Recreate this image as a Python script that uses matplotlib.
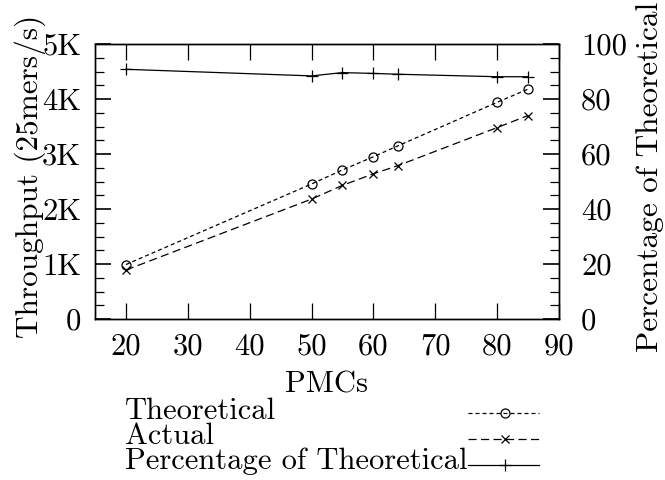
import matplotlib
matplotlib.use("Agg")
import matplotlib.pyplot as plt
from matplotlib.lines import Line2D
from matplotlib.ticker import MultipleLocator

plt.rcParams['font.family'] = ['cmr10']
plt.rcParams['axes.formatter.use_mathtext'] = True
plt.rcParams['mathtext.fontset'] = 'cm'

# PMC counts and measured throughput (25mers/s)
pmcs = [20, 50, 55, 60, 64, 80, 85]
theoretical = [990, 2455, 2710, 2950, 3150, 3940, 4180]
actual = [890, 2180, 2430, 2640, 2790, 3480, 3700]
percentage = [90.8, 88.4, 89.6, 89.3, 89.0, 88.1, 88.1]

series_names = ["Theoretical", "Actual", "Percentage of Theoretical"]
x_ticks = [20, 30, 40, 50, 60, 70, 80, 90]
y_ticks = [0, 1000, 2000, 3000, 4000, 5000]
y_tick_labels = ["0", "1K", "2K", "3K", "4K", "5K"]
y2_ticks = [0, 20, 40, 60, 80, 100]

FS = 22
W, H = 665, 480

fig = plt.figure(figsize=(W / 100, H / 100), dpi=100)
ax = fig.add_axes([95 / W, 1 - 319 / H, 464 / W, 275 / H])
ax2 = ax.twinx()

style_th = dict(color='black', lw=0.9, linestyle=(0, (3.2, 2.4)),
                marker='o', markersize=6.5, markerfacecolor='none',
                markeredgewidth=0.9)
style_ac = dict(color='black', lw=0.9, linestyle=(0, (6.5, 3.5)),
                marker='x', markersize=6, markeredgewidth=0.9)
style_pc = dict(color='black', lw=0.9, linestyle='-',
                marker='+', markersize=8, markeredgewidth=0.9)

ax.plot(pmcs, theoretical, **style_th)
ax.plot(pmcs, actual, **style_ac)
ax2.plot(pmcs, percentage, **style_pc)

ax.set_xlim(15, 90)
ax.set_ylim(0, 5000)
ax2.set_ylim(0, 100)

ax.set_xticks(x_ticks)
ax.set_xticklabels([str(v) for v in x_ticks], fontsize=FS)
ax.set_yticks(y_ticks)
ax.set_yticklabels(y_tick_labels, fontsize=FS)
ax.yaxis.set_minor_locator(MultipleLocator(250))
ax2.set_yticks(y2_ticks)
ax2.set_yticklabels([str(v) for v in y2_ticks], fontsize=FS)
ax2.yaxis.set_minor_locator(MultipleLocator(5))

ax.tick_params(axis='x', which='major', direction='in', length=11.5, width=0.9,
               top=True, bottom=True, pad=10)
ax.tick_params(axis='y', which='major', direction='in', length=11.5, width=1.2,
               left=True, right=False, pad=10)
ax.tick_params(axis='y', which='minor', direction='in', length=6.5, width=0.9,
               left=True, right=False)
ax2.tick_params(axis='y', which='major', direction='in', length=11.5, width=1.2,
                right=True, left=False, pad=16)
ax2.tick_params(axis='y', which='minor', direction='in', length=6.5, width=0.9,
                right=True, left=False)

for a in (ax, ax2):
    for s in a.spines.values():
        s.set_linewidth(1.0)

fig.text(327 / W, 1 - 385 / H, "PMCs", fontsize=FS, ha='center', va='center')
fig.text(30 / W, 1 - 176 / H, "Throughput (25mers/s)", fontsize=22.5,
         rotation=90, ha='center', va='center')
fig.text(650 / W, 1 - 177 / H, "Percentage of Theoretical", fontsize=22.5,
         rotation=90, ha='center', va='center')

# key below the plot: label on the left, line sample on the right
rows_y = [411, 436, 461]
line_y = [413, 439, 465]
styles = [style_th, style_ac, style_pc]
for name, ty, ly, st in zip(series_names, rows_y, line_y, styles):
    fig.text(125 / W, 1 - ty / H, name, fontsize=FS, ha='left', va='center')
    fy = 1 - ly / H
    line_kw = {k: v for k, v in st.items() if not k.startswith('marker')}
    fig.add_artist(Line2D([468 / W, 539 / W], [fy, fy],
                          transform=fig.transFigure, **line_kw))
    mark_kw = {k: v for k, v in st.items() if k.startswith('marker')}
    fig.add_artist(Line2D([505 / W], [fy], transform=fig.transFigure,
                          color='black', linestyle='none', **mark_kw))

fig.savefig("out.png", dpi=100)
